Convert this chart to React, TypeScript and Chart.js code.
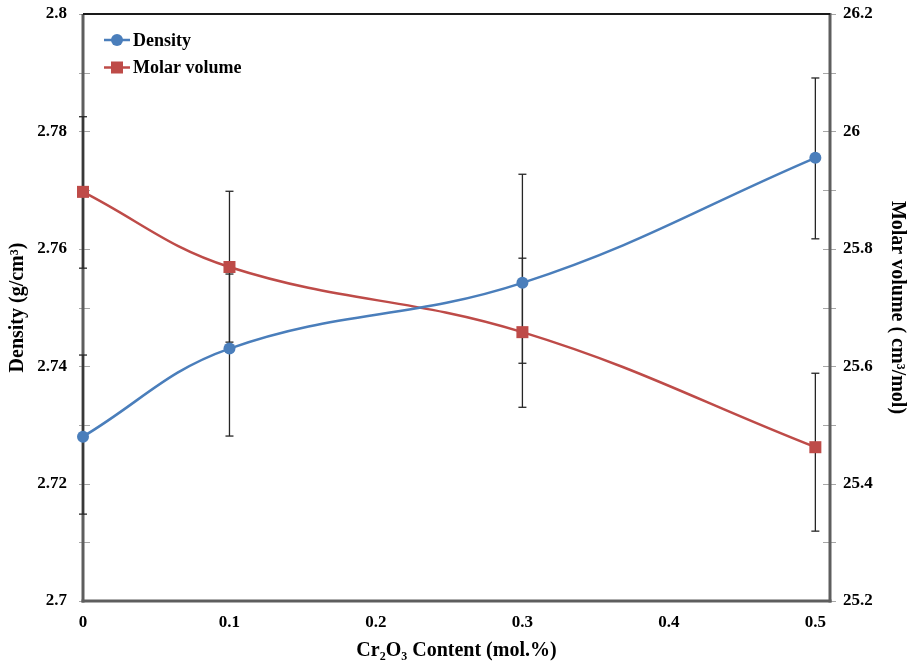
import React, { useEffect, useRef } from 'react';
import { Chart, registerables } from 'chart.js';

Chart.register(...registerables);

// ---- data ----
const xValues = [0, 0.1, 0.3, 0.5];
const densityValues = [2.728, 2.743, 2.7542, 2.7755];
const densityErrLow = [2.7148, 2.7281, 2.7405, 2.7617];
const densityErrHigh = [2.7419, 2.7557, 2.7727, 2.7891];
const molarValues = [25.897, 25.769, 25.658, 25.462];
const molarErrLow = [25.767, 25.641, 25.53, 25.319];
const molarErrHigh = [26.025, 25.898, 25.784, 25.588];

const xTicks = [0, 0.1, 0.2, 0.3, 0.4, 0.5];
const densityTicks = [2.7, 2.72, 2.74, 2.76, 2.78, 2.8];
const densityMinorTicks = [2.71, 2.73, 2.75, 2.77, 2.79];
const molarTicks = [25.2, 25.4, 25.6, 25.8, 26, 26.2];
const molarMinorTicks = [25.3, 25.5, 25.7, 25.9, 26.1];

const seriesLabels = ['Density', 'Molar volume'];
const seriesColors = ['#4A7EBB', '#BE4B48'];
const xTitle = 'Cr\u2082O\u2083 Content (mol.%)';
const leftTitle = 'Density (g/cm\u00B3)';
const rightTitle = 'Molar volume ( cm\u00B3/mol)';

const FONT = "'Liberation Serif', 'Times New Roman', serif";

const errorSets = [
  { axis: 'yL', low: densityErrLow, high: densityErrHigh },
  { axis: 'yR', low: molarErrLow, high: molarErrHigh },
];

function line(ctx: CanvasRenderingContext2D, x1: number, y1: number, x2: number, y2: number) {
  ctx.beginPath();
  ctx.moveTo(x1, y1);
  ctx.lineTo(x2, y2);
  ctx.stroke();
}

const framePlugin = {
  id: 'frameAndErrors',
  beforeDatasetsDraw(chart: any) {
    const { ctx, chartArea, scales } = chart;
    const { left, right, top, bottom } = chartArea;
    ctx.save();
    // tick marks
    ctx.strokeStyle = '#a6a6a6';
    ctx.lineWidth = 1;
    [...densityTicks, ...densityMinorTicks].forEach((v) => {
      const y = Math.round(scales.yL.getPixelForValue(v)) + 0.5;
      line(ctx, left - 4, y, left + 7, y);
    });
    [...molarTicks, ...molarMinorTicks].forEach((v) => {
      const y = Math.round(scales.yR.getPixelForValue(v)) + 0.5;
      line(ctx, right - 7, y, right + 6, y);
    });
    // frame
    ctx.strokeStyle = '#5e5e5e';
    ctx.lineWidth = 3;
    line(ctx, left, top, left, bottom + 1.5);
    line(ctx, right, top - 1, right, bottom + 1.5);
    line(ctx, left - 1.5, bottom, right + 1.5, bottom);
    ctx.strokeStyle = '#1a1a1a';
    ctx.lineWidth = 2;
    line(ctx, left, top, right, top);
    // error bars
    ctx.strokeStyle = '#262626';
    ctx.lineWidth = 1.3;
    errorSets.forEach((es) => {
      const ys = scales[es.axis];
      xValues.forEach((xv, i) => {
        const x = scales.x.getPixelForValue(xv);
        const y1 = ys.getPixelForValue(es.high[i]);
        const y2 = ys.getPixelForValue(es.low[i]);
        line(ctx, x, y1, x, y2);
        line(ctx, x - 4, y1, x + 4, y1);
        line(ctx, x - 4, y2, x + 4, y2);
      });
    });
    ctx.restore();
  },
  afterDatasetsDraw(chart: any) {
    const { ctx } = chart;
    ctx.save();
    seriesLabels.forEach((label, i) => {
      const y = 40 + i * 27.5;
      ctx.strokeStyle = seriesColors[i];
      ctx.lineWidth = 2.5;
      line(ctx, 104, y, 130, y);
      ctx.fillStyle = seriesColors[i];
      if (i === 0) {
        ctx.beginPath();
        ctx.arc(117, y, 6, 0, Math.PI * 2);
        ctx.fill();
      } else {
        ctx.fillRect(111, y - 6, 12, 12);
      }
      ctx.fillStyle = '#000';
      ctx.font = `bold 18px ${FONT}`;
      ctx.textBaseline = 'middle';
      ctx.textAlign = 'left';
      ctx.fillText(label, 133, y + 1);
    });
    ctx.restore();
  },
};

export default function App() {
  const canvasRef = useRef<HTMLCanvasElement | null>(null);

  useEffect(() => {
    const canvas = canvasRef.current;
    if (!canvas) return;
    const tickFont = { family: FONT, size: 17, weight: 'bold' as const };
    const titleFont = { family: FONT, size: 20, weight: 'bold' as const };
    const fitY = (s: any) => {
      s.width = 83;
      s.paddingTop = 0;
      s.paddingBottom = 0;
    };
    const chart = new Chart(canvas, {
      type: 'line',
      data: {
        datasets: [
          {
            label: seriesLabels[0],
            data: xValues.map((x, i) => ({ x, y: densityValues[i] })),
            yAxisID: 'yL',
            borderColor: seriesColors[0],
            backgroundColor: seriesColors[0],
            borderWidth: 2.5,
            pointStyle: 'circle',
            pointRadius: 6,
            pointBorderWidth: 0,
            tension: 0.4,
            clip: false as any,
          },
          {
            label: seriesLabels[1],
            data: xValues.map((x, i) => ({ x, y: molarValues[i] })),
            yAxisID: 'yR',
            borderColor: seriesColors[1],
            backgroundColor: seriesColors[1],
            borderWidth: 2.5,
            pointStyle: 'rect',
            pointRadius: 8.5,
            pointBorderWidth: 0,
            tension: 0.4,
            clip: false as any,
          },
        ],
      },
      options: {
        responsive: false,
        animation: false,
        layout: { padding: { top: 14, left: 0, right: 0, bottom: 0 } },
        plugins: { legend: { display: false }, tooltip: { enabled: false } },
        scales: {
          x: {
            type: 'linear',
            min: 0,
            max: 0.51,
            grid: { display: false, drawTicks: false },
            border: { display: false },
            afterBuildTicks: (s: any) => {
              s.ticks = xTicks.map((v) => ({ value: v }));
            },
            afterFit: (s: any) => {
              s.height = 65;
              s.paddingLeft = 0;
              s.paddingRight = 0;
            },
            ticks: {
              autoSkip: false,
              maxRotation: 0,
              padding: 11,
              color: '#000',
              font: tickFont,
              callback: (v: any) => String(v),
            },
            title: {
              display: true,
              text: xTitle,
              color: '#000',
              font: titleFont,
              padding: { top: 0, bottom: 3 },
            },
          },
          yL: {
            type: 'linear',
            position: 'left',
            min: 2.7,
            max: 2.8,
            grid: { display: false, drawTicks: false },
            border: { display: false },
            afterBuildTicks: (s: any) => {
              s.ticks = densityTicks.map((v) => ({ value: v }));
            },
            afterFit: fitY,
            ticks: {
              autoSkip: false,
              padding: 16,
              color: '#000',
              font: tickFont,
              callback: (v: any) => String(v),
            },
            title: {
              display: true,
              text: leftTitle,
              color: '#000',
              font: titleFont,
              padding: { top: 6, bottom: 0 },
            },
          },
          yR: {
            type: 'linear',
            position: 'right',
            min: 25.2,
            max: 26.2,
            grid: { display: false, drawTicks: false },
            border: { display: false },
            afterBuildTicks: (s: any) => {
              s.ticks = molarTicks.map((v) => ({ value: v }));
            },
            afterFit: fitY,
            ticks: {
              autoSkip: false,
              padding: 13,
              color: '#000',
              font: tickFont,
              callback: (v: any) => String(v),
            },
            title: {
              display: true,
              text: rightTitle,
              color: '#000',
              font: titleFont,
              padding: { top: 4, bottom: 0 },
            },
          },
        },
      } as any,
      plugins: [framePlugin as any],
    });
    return () => chart.destroy();
  }, []);

  return (
    <div style={{ position: 'absolute', left: 0, top: 0, width: 913, height: 666, background: '#fff' }}>
      <canvas ref={canvasRef} width={913} height={666} />
    </div>
  );
}
